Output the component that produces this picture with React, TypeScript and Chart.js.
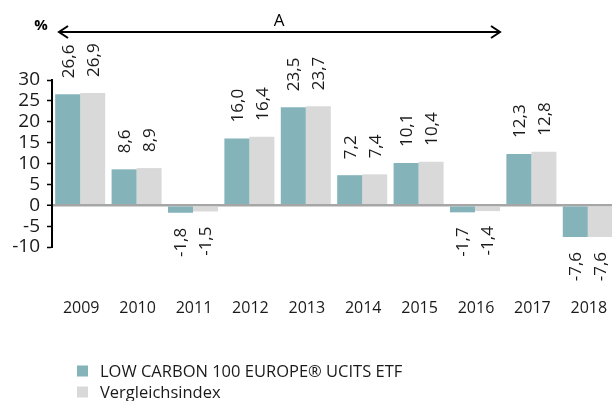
import React, { useEffect, useRef } from "react";
import { Chart, registerables } from "chart.js";

Chart.register(...registerables);

const years = ["2009", "2010", "2011", "2012", "2013", "2014", "2015", "2016", "2017", "2018"];
const fundValues = [26.6, 8.6, -1.8, 16.0, 23.5, 7.2, 10.1, -1.7, 12.3, -7.6];
const indexValues = [26.9, 8.9, -1.5, 16.4, 23.7, 7.4, 10.4, -1.4, 12.8, -7.6];
const seriesNames = ["LOW CARBON 100 EUROPE® UCITS ETF", "Vergleichsindex"];
const seriesColors = ["#84b4ba", "#d9d9d9"];
const periodLabel = "A";
const unitLabel = "%";

const FONT = "'Open Sans', 'DejaVu Sans', sans-serif";

const overlayPlugin = {
  id: "overlay",
  afterDatasetsDraw(chart: any) {
    const ctx = chart.ctx;
    ctx.save();
    // data labels
    ctx.fillStyle = "#1a1a1a";
    ctx.font = `17px ${FONT}`;
    chart.data.datasets.forEach((ds: any, di: number) => {
      const meta = chart.getDatasetMeta(di);
      meta.data.forEach((el: any, i: number) => {
        const v = ds.data[i];
        const txt = v.toFixed(1).replace(".", ",");
        ctx.save();
        if (v >= 0) {
          ctx.translate(el.x + 1, el.y - 16);
          ctx.rotate(-Math.PI / 2);
          ctx.textAlign = "left";
        } else {
          ctx.translate(el.x + 1, el.y + 15);
          ctx.rotate(-Math.PI / 2);
          ctx.textAlign = "right";
        }
        ctx.textBaseline = "middle";
        ctx.fillText(txt, 0, 0);
        ctx.restore();
      });
    });

    // category labels
    const xs = chart.scales.x;
    ctx.font = `16px ${FONT}`;
    ctx.textAlign = "center";
    ctx.textBaseline = "middle";
    ctx.fillStyle = "#1a1a1a";
    chart.data.labels.forEach((lab: string, i: number) => {
      ctx.fillText(lab, xs.getPixelForValue(i) + 1, 308);
    });

    // top annotation
    ctx.fillStyle = "#000";
    ctx.font = `bold 15px ${FONT}`;
    ctx.fillText(unitLabel, 41, 26);

    ctx.font = `17px ${FONT}`;
    ctx.fillText(periodLabel, 279, 21);

    ctx.strokeStyle = "#000";
    ctx.lineWidth = 2;
    ctx.beginPath();
    ctx.moveTo(59, 32);
    ctx.lineTo(500, 32);
    ctx.stroke();
    ctx.beginPath();
    ctx.moveTo(68, 26);
    ctx.lineTo(59, 32);
    ctx.lineTo(68, 38);
    ctx.stroke();
    ctx.beginPath();
    ctx.moveTo(491, 26);
    ctx.lineTo(500, 32);
    ctx.lineTo(491, 38);
    ctx.stroke();

    // legend
    ctx.textAlign = "left";
    ctx.font = `16.5px ${FONT}`;
    chart.data.datasets.forEach((ds: any, di: number) => {
      const y = 371 + di * 21;
      ctx.fillStyle = ds.backgroundColor;
      ctx.fillRect(77, y - 5.5, 11, 11);
      ctx.fillStyle = "#1a1a1a";
      ctx.fillText(ds.label, 100, y + 1);
    });
    ctx.restore();
  },
};

export default function App() {
  const ref = useRef<HTMLCanvasElement | null>(null);
  useEffect(() => {
    if (!ref.current) return;
    const chart = new Chart(ref.current, {
      type: "bar",
      data: {
        labels: years,
        datasets: [
          { label: seriesNames[0], data: fundValues, backgroundColor: seriesColors[0] },
          { label: seriesNames[1], data: indexValues, backgroundColor: seriesColors[1] },
        ],
      },
      options: {
        animation: false,
        responsive: false,
        maintainAspectRatio: false,
        layout: { padding: { top: 80, right: 4, left: 0, bottom: 0 } },
        plugins: { legend: { display: false }, tooltip: { enabled: false } },
        datasets: { bar: { categoryPercentage: 0.887, barPercentage: 1.0 } },
        scales: {
          x: {
            grid: { display: false, drawTicks: false },
            border: { display: false },
            ticks: { display: false, padding: 0, autoSkip: false },
            afterFit: (s: any) => { s.height = 154; s.paddingLeft = 0; s.paddingRight = 0; },
          },
          y: {
            min: -10,
            max: 30,
            ticks: { stepSize: 5, autoSkip: false, padding: 7, color: "#1a1a1a", font: { family: FONT, size: 19 } },
            grid: {
              color: (c: any) => (c.tick && c.tick.value === 0 ? "#a6a6a6" : "rgba(0,0,0,0)"),
              lineWidth: (c: any) => (c.tick && c.tick.value === 0 ? 2.5 : 1),
              tickColor: "#000",
              tickWidth: 1.5,
              tickLength: 5,
            },
            border: { display: true, color: "#000", width: 2 },
            afterFit: (s: any) => { s.width = 52; },
          },
        },
      },
      plugins: [overlayPlugin],
    });
    return () => chart.destroy();
  }, []);
  return (
    <div style={{ position: "absolute", left: 0, top: 0, width: 612, height: 401, overflow: "hidden", background: "#fff" }}>
      <canvas ref={ref} width={620} height={401} style={{ display: "block" }} />
    </div>
  );
}
